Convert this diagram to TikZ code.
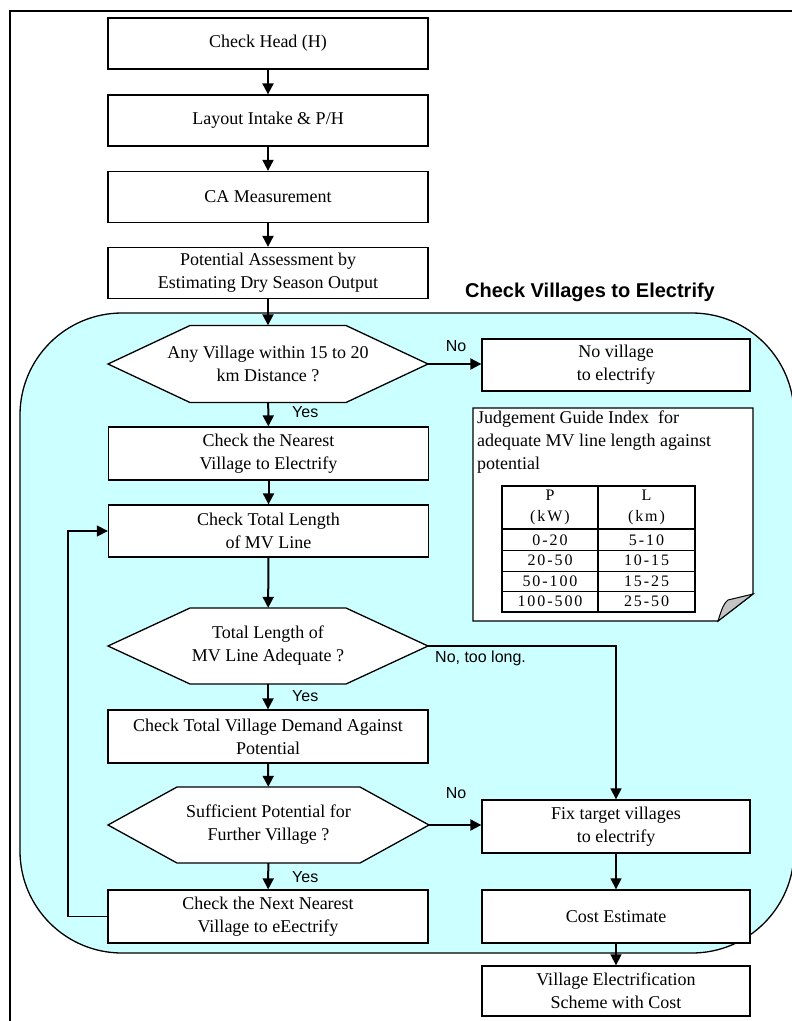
\documentclass[tikz,border=0pt]{standalone}
\usepackage{fontspec}
\setmainfont{Liberation Serif}
\newfontfamily\arialfont{Liberation Sans}
\newfontfamily\tabfont[LetterSpace=12]{Liberation Serif}
\usetikzlibrary{arrows.meta}
\definecolor{regionfill}{HTML}{CCFFFF}
\definecolor{flapgray}{HTML}{C4C4C4}

% hexagonal decision node: name, cx, cy, half width, half height, inset, text
\newcommand\decision[7]{%
  \draw[boxline,fill=white] (#2-#4,#3) -- (#2-#4+#6,#3-#5) -- (#2+#4-#6,#3-#5)
    -- (#2+#4,#3) -- (#2+#4-#6,#3+#5) -- (#2-#4+#6,#3+#5) -- cycle;
  \node[txt,minimum width=2*#4 pt,minimum height=2*#5 pt] (#1) at (#2,#3) {#7};
}

\tikzset{
  boxline/.style={line width=1.3pt,draw=black},
  txt/.style={inner sep=0pt,align=center,font=\fontsize{18}{23}\selectfont},
  stepbox/.style={txt,boxline,fill=white,minimum width=320pt,minimum height=51pt},
  sidebox/.style={txt,boxline,fill=white,minimum width=268pt,minimum height=52pt},
  flow/.style={line width=2pt,-{Triangle[width=11pt,length=11pt]}},
  thinflow/.style={line width=1.2pt,-{Triangle[width=11pt,length=11pt]}},
  link/.style={line width=1.2pt},
  answer/.style={inner sep=0pt,font=\arialfont\fontsize{16}{18}\selectfont},
  cellrule/.style={line width=0.8pt},
  tablerule/.style={line width=2pt},
  tabtxt/.style={inner sep=0pt,font=\tabfont\fontsize{16}{21}\selectfont}
}

\begin{document}
\begin{tikzpicture}[x=1pt,y=-1pt]
\useasboundingbox (0,0) rectangle (792,1021);

% page frame
\draw[line width=2.4pt] (10,11) rectangle (830,1060);

% shaded region for the village checks
\draw[boxline,fill=regionfill,rounded corners=102pt] (20,313) rectangle (794,953);
\node[font=\arialfont\bfseries\fontsize{20}{24}\selectfont,inner sep=0pt] (title) at (590,292) {Check Villages to Electrify};

% upper chain
\node[stepbox] (head)   at (268,43.5) {Check Head (H)};
\node[stepbox] (layout) at (268,120.5) {Layout Intake \& P/H};
\node[stepbox] (ca)     at (268,197) {CA Measurement};
\node[stepbox] (pot)    at (268,273) {Potential Assessment by\\Estimating Dry Season Output};

% decisions and steps inside the region
\decision{d1}{268}{364}{160}{38.5}{82}{Any Village within 15 to 20\\km Distance ?}
\node[sidebox] (nov) at (616,365) {No village\\to electrify};
\node[stepbox,minimum height=53pt] (near) at (268.5,453.5) {Check the Nearest\\Village to Electrify};
\node[stepbox,minimum height=52pt] (tot)  at (268.5,531) {Check Total Length\\of MV Line};
\decision{d2}{268}{646}{160}{38}{82}{Total Length of\\MV Line Adequate ?}
\node[stepbox,minimum height=53pt] (dem)  at (268,736.5) {Check Total Village Demand Against\\Potential};
\decision{d3}{268.5}{825}{160.5}{38}{69}{Sufficient Potential for\\Further Village ?}
\node[sidebox,minimum height=53pt] (fix)  at (616,826.5) {Fix target villages\\to electrify};
\node[stepbox,minimum height=53pt] (next) at (268,916.5) {Check the Next Nearest\\Village to eEectrify};
\node[sidebox,minimum height=53pt] (cost) at (616,916.5) {Cost Estimate};
\node[sidebox,minimum height=50pt] (scheme) at (616,991) {Village Electrification\\Scheme with Cost};

% guide note with folded corner
\draw[boxline,fill=white] (473,408) -- (753,408) -- (753,594) -- (718,621) -- (473,621) -- cycle;
\draw[line width=1pt,fill=flapgray] (718,621) .. controls (722,608) and (724,603) .. (728,600)
  -- (753,594) -- cycle;
\node[txt,align=left,anchor=north west] (note) at (477,411)
  {Judgement Guide Index~~for\\adequate MV line length against\\potential};

% guide table
\draw[cellrule] (502,550) -- (695,550) (502,571) -- (695,571) (502,591) -- (695,591);
\draw[tablerule] (502,529) -- (695,529) (598,486) -- (598,612);
\draw[tablerule] (502,486) rectangle (695,612);
\node[tabtxt,align=center] (hp) at (550,507.5) {P\\(kW)};
\node[tabtxt,align=center] (hl) at (646.5,507.5) {L\\(km)};
\node[tabtxt] (p1) at (550,540) {0-20};
\node[tabtxt] (l1) at (646.5,540) {5-10};
\node[tabtxt] (p2) at (550,560.5) {20-50};
\node[tabtxt] (l2) at (646.5,560.5) {10-15};
\node[tabtxt] (p3) at (550,581) {50-100};
\node[tabtxt] (l3) at (646.5,581) {15-25};
\node[tabtxt] (p4) at (550,601.5) {100-500};
\node[tabtxt] (l4) at (646.5,601.5) {25-50};

% connectors
\draw[flow] (head) -- (layout);
\draw[flow] (layout) -- (ca);
\draw[flow] (ca) -- (pot);
\draw[flow] (pot) -- (d1);
\draw[flow] (d1.east) -- (d1.east -| nov.west);
\draw[flow] (d1) -- (near);
\draw[flow] (near) -- (tot);
\draw[flow] (tot) -- (d2);
\draw[flow] (d2) -- (dem);
\draw[flow] (dem) -- (d3);
\draw[flow] (d3.east) -- (d3.east -| fix.west);
\draw[flow] (d3) -- (next);
\draw[thinflow] (d2.east) -| (fix.north);
\draw[thinflow] (fix) -- (cost);
\draw[thinflow] (cost) -- (scheme);
\coordinate (loop) at (68,916.5);
\draw[link] (next.west) -- (loop);
\draw[thinflow] (loop) |- (tot.west);

% answers on the decision exits
\node[answer] (no1)  at (456,346) {No};
\node[answer,anchor=west] (yes1) at (292,412) {Yes};
\node[answer,anchor=west] (no2)  at (435,658) {No, too long.};
\node[answer,anchor=west] (yes2) at (292,696) {Yes};
\node[answer] (no3)  at (456,793) {No};
\node[answer,anchor=west] (yes3) at (292,877) {Yes};
\end{tikzpicture}
\end{document}
